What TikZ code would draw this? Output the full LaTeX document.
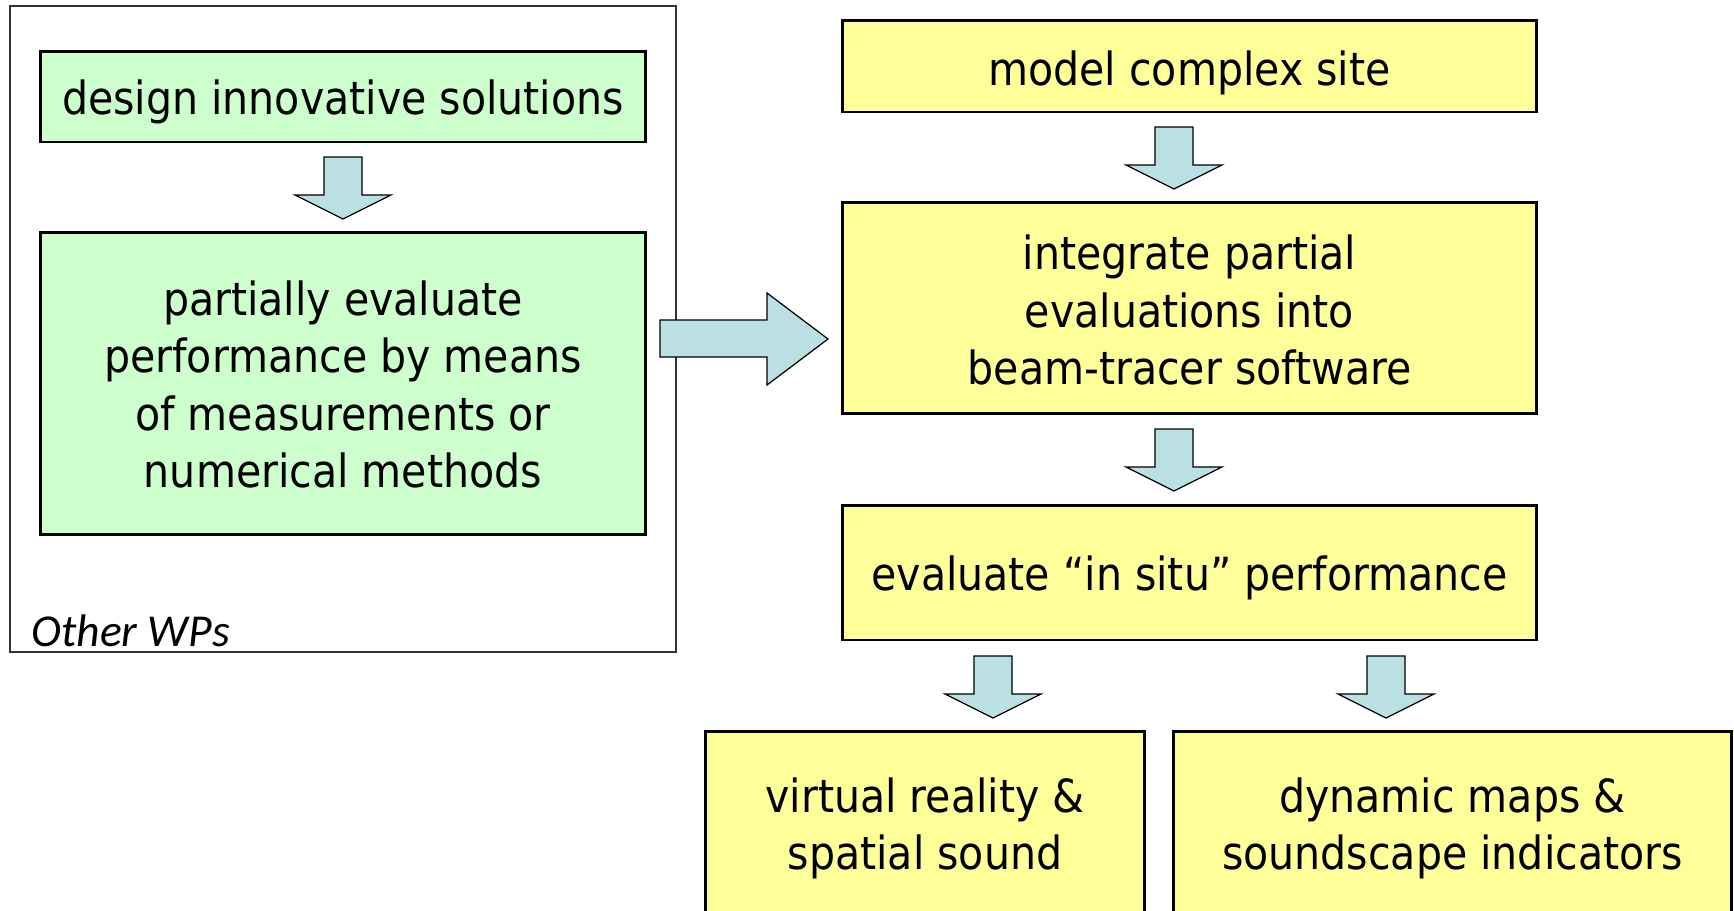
\documentclass[tikz,border=0pt]{standalone}
\usepackage{fontspec}
\setmainfont{DejaVu Sans Condensed}
\newfontfamily\wpfont{Carlito}
\usetikzlibrary{calc}

\definecolor{boxgreen}{HTML}{CCFFCC}
\definecolor{boxyellow}{HTML}{FFFF99}
\definecolor{arrowblue}{HTML}{BBE0E3}

\tikzset{
    stepbox/.style={draw=black, line width=1.7pt, inner sep=0pt},
    boxtext/.style={align=center, font=\fontsize{26}{32.7}\selectfont, inner sep=0pt},
    greenbox/.style={stepbox, fill=boxgreen, minimum width=12.12cm},
    yellowbox/.style={stepbox, fill=boxyellow, minimum width=13.9cm},
    blockarrow/.style={draw=black, line width=0.7pt, fill=arrowblue, line join=miter},
}

% block arrow pointing down, top centre at #1
\newcommand{\blockdown}[1]{\filldraw[blockarrow] (#1) ++(-19,0) -- ++(38,0) -- ++(0,38) -- ++(29,0) -- ++(-48,24) -- ++(-48,-24) -- ++(29,0) -- cycle;}

\begin{document}
\begin{tikzpicture}[x=0.02cm, y=-0.02cm]
    \clip (0,0) rectangle (1734,910);
    \fill[white] (0,0) rectangle (1734,910);

    %% Other WPs frame
    \draw[line width=0.85pt, draw=black!80] (10,6) rectangle (676,652);
    \node[anchor=base west, inner sep=0pt, font=\wpfont\itshape\fontsize{26}{30}\selectfont] (wps) at (31,646) {Other WPs};

    \node[greenbox, minimum height=1.82cm,
        label={[boxtext, yshift=-3.1pt]center:{design innovative solutions}}] (design) at (343,96.5) {};
    \node[greenbox, minimum height=6.06cm,
        label={[boxtext, yshift=-0.6pt]center:{partially evaluate\\performance by means\\of measurements or\\ numerical methods}}] (partial) at (343,383.5) {};

    %% the WP chain
    \node[yellowbox, minimum height=1.84cm,
        label={[boxtext, yshift=-3.7pt]center:{model complex site}}] (model) at (1189.5,66) {};
    \node[yellowbox, minimum height=4.24cm,
        label={[boxtext, yshift=-1.2pt]center:{integrate partial\\evaluations into\\beam-tracer software}}] (integ) at (1189.5,308) {};
    \node[yellowbox, minimum height=2.7cm,
        label={[boxtext, yshift=-3.1pt]center:{evaluate “in situ” performance}}] (insitu) at (1189.5,572.5) {};
    \node[stepbox, fill=boxyellow, minimum width=8.8cm, minimum height=3.76cm,
        label={[boxtext, yshift=-1.9pt]center:{virtual reality \&\\spatial sound}}] (vr) at (925,825) {};
    \node[stepbox, fill=boxyellow, minimum width=11.18cm, minimum height=3.76cm,
        label={[boxtext, yshift=-1.9pt]center:{dynamic maps \&\\soundscape indicators}}] (dyn) at (1452.5,825) {};

    %% block arrows
    \blockdown{343,157}
    \blockdown{1174,127}
    \blockdown{1174,429}
    \blockdown{993,656}
    \blockdown{1386,656}
    \filldraw[blockarrow] (660,320) -- (767,320) -- (767,293) -- (828,339) -- (767,385) -- (767,357) -- (660,357) -- cycle;
\end{tikzpicture}
\end{document}
